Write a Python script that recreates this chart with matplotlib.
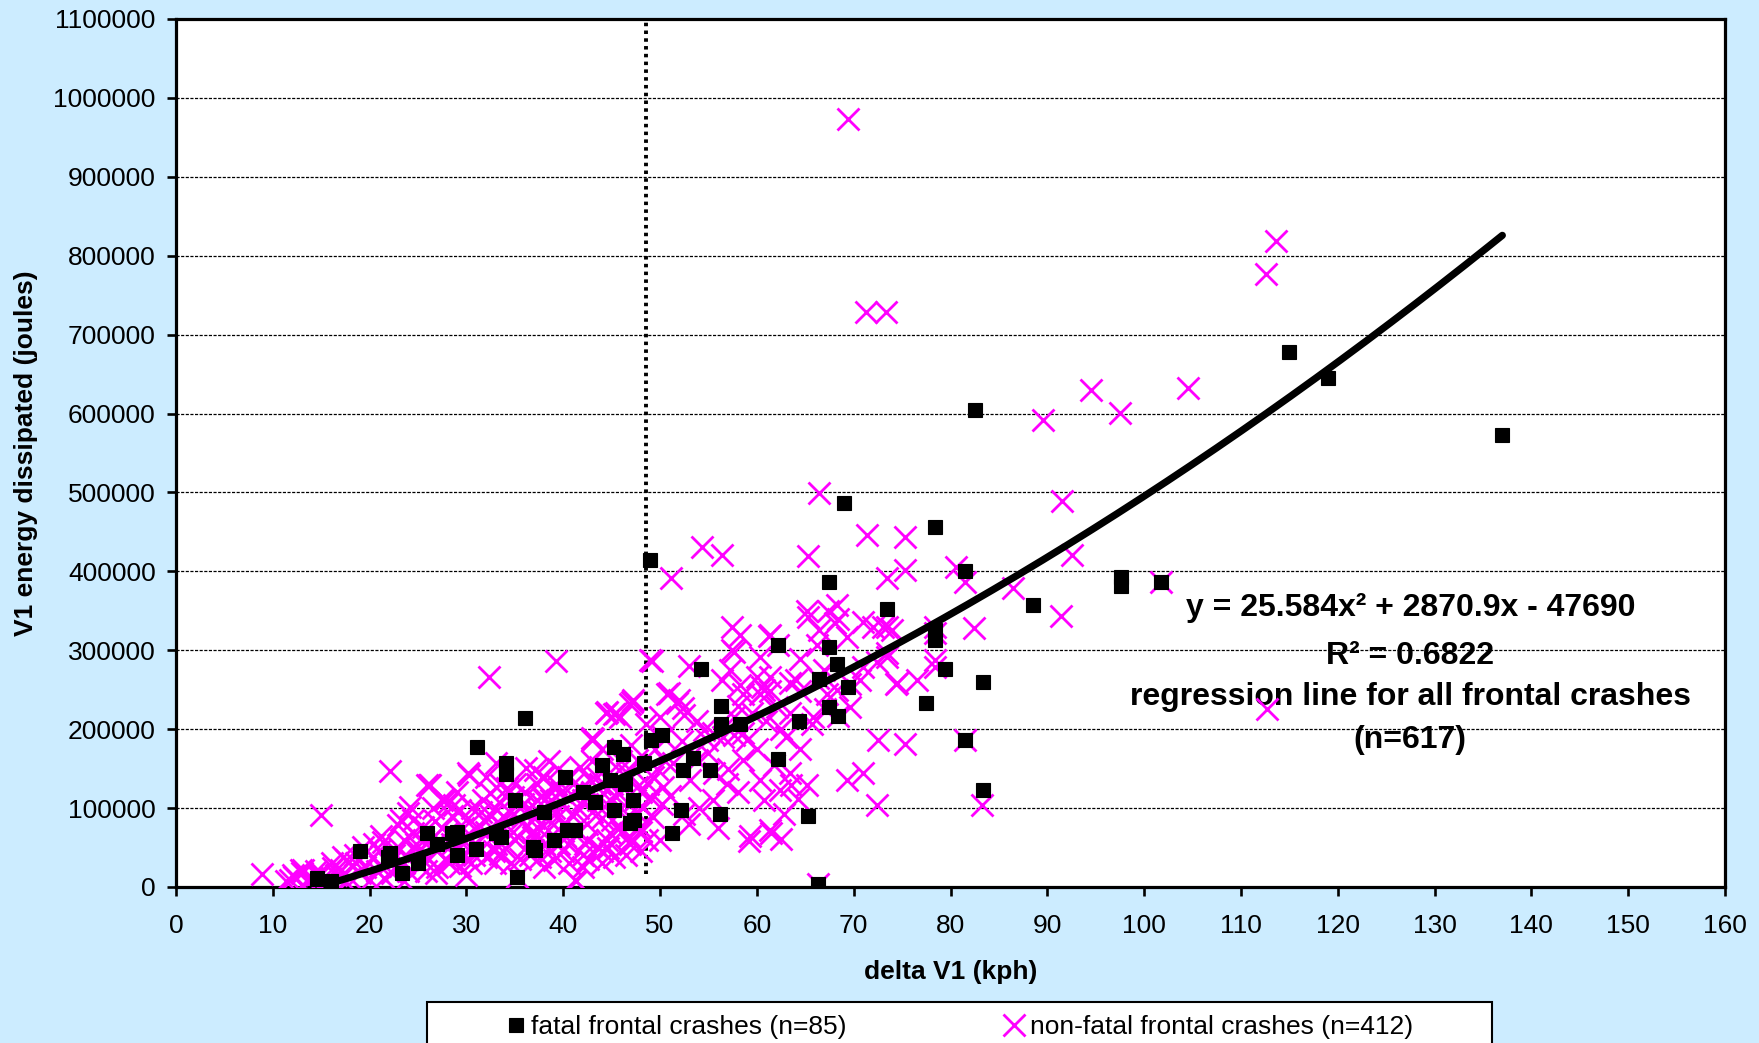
import matplotlib
matplotlib.use("Agg")
import matplotlib.pyplot as plt
import numpy as np
from matplotlib.patches import Rectangle
from matplotlib.ticker import FuncFormatter

plt.rcParams['font.family'] = ['Liberation Sans', 'DejaVu Sans']

# ---------------- data ----------------
x_ticks = list(range(0, 161, 10))
y_ticks = list(range(0, 1100001, 100000))

# fatal frontal crashes: delta V1 (kph), energy (kJ)
fatal_dv = [137, 115, 119, 82.5, 69, 78.4, 49, 81.5, 97.6, 97.6,
            101.7, 88.5, 73.4, 67.4, 62.2, 67.4, 68.3, 78.4, 78.4, 79.4,
            83.4, 54.2, 66.4, 69.4, 77.5, 67.4, 68.4, 64.4, 56.3, 56.3,
            58.3, 81.5, 83.4, 62.2, 65.3, 66.3, 56.2, 51.2, 52.2, 52.4,
            53.4, 55.2, 50.2, 49.1, 48.3, 45.2, 46.2, 40.2, 44.8, 46.4,
            43.3, 47.2, 41.2, 45.2, 46.9, 37.1, 36.1, 31.1, 34.1, 34.1,
            35.2, 19.0, 25.9, 23.3, 29.0, 22.1, 29.0, 33.1, 36.9, 35.0,
            21.9, 28.5, 33.6, 40.4, 47.3, 16.0, 14.6, 38.0, 42.0, 27.0,
            31.0, 44.0, 39.0, 25.0]
fatal_energy_kJ = [573, 678, 645, 604, 487, 456, 415, 400, 393, 381,
                   387, 357, 352, 386, 307, 304, 283, 326, 313, 276,
                   260, 276, 264, 254, 233, 228, 217, 211, 230, 207,
                   206, 186, 123, 162, 90, 4, 93, 68, 98, 148,
                   163, 148, 193, 186, 157, 178, 169, 140, 136, 131,
                   108, 110, 72, 98, 81, 47, 214, 178, 157, 143,
                   13, 45, 68, 18, 70, 43, 40, 68, 51, 110,
                   38, 68, 63, 72, 85, 8, 12, 95, 120, 55,
                   48, 155, 60, 30]

# non-fatal frontal crashes: delta V1 (kph), energy (kJ)
nonfatal_dv = [
    69.4, 113.6, 112.6, 71.3, 73.3, 94.5, 104.5, 89.6, 97.5, 91.5,
    91.4, 92.5, 86.5, 82.4, 78.4, 80.6, 81.5, 75.3, 75.3, 73.4,
    73.4, 74.0, 73.4, 78.4, 112.7, 83.3, 66.4, 65.3, 56.4, 54.3,
    51.1, 49.2, 71.4, 72.5, 75.3, 71.0, 69.3, 72.4, 59.2, 61.5,
    64.2, 63.5, 8.9, 15.0, 22.1, 32.3, 39.3, 101.7, 81.5, 66.3,
    35.2, 62.2, 68.4, 57.4, 58.3, 57.4, 61.4, 60.3, 65.3, 68.3,
    68.4, 66.4, 69.3, 71.0, 72.0, 73.0, 72.4, 73.4, 74.5, 78.4,
    78.4, 56.4, 58.3, 60.5, 60.3, 61.4, 63.4, 64.0, 64.5, 63.4,
    66.9, 68.3, 70.7, 67.2, 69.6, 65.7, 58.6, 56.5, 54.5, 60.9,
    60.0, 57.2, 66.3, 65.2, 67.3, 68.1, 61.3, 57.6, 61.4, 62.1,
    58.6, 60.7, 55.5, 57.6, 53.8, 66.2, 67.0, 69.6, 71.0, 64.5,
    65.8, 62.5, 76.5, 74.4, 53.8, 53.1, 56.9, 58.6, 60.3, 60.7,
    62.4, 59.3, 61.4, 52.5, 50.3, 49.3, 49.0, 49.3, 47.9, 54.8,
    59.0, 57.6, 50.3, 50.7, 51.7, 52.4, 48.5, 47.2, 45.5, 44.5,
    43.1, 51.3, 55.0, 57.0, 58.0, 55.5, 54.0, 56.0, 53.0, 51.0,
    50.5, 55.6, 52.3, 58.0, 59.5, 63.0, 64.5, 61.8, 60.0, 62.8,
    50.0, 62.5, 65.2, 63.4, 39.0, 43.5, 42.2, 40.2, 38.4, 37.3,
    37.3, 38.7, 41.7, 42.8, 40.8, 44.1, 45.5, 46.6, 47.6, 45.9,
    44.8, 46.9, 39.6, 36.9, 47.6, 45.2, 41.2, 43.0, 44.0, 41.5,
    39.5, 42.5, 46.0, 47.5, 48.0, 45.0, 43.5, 41.0, 39.0, 38.0,
    40.0, 42.0, 44.5, 46.5, 47.0, 48.0, 44.0, 42.0, 40.0, 38.0,
    37.0, 36.5, 39.5, 43.0, 46.0, 44.0, 47.0, 45.8, 43.0, 45.2,
    46.9, 26.1, 28.1, 30.2, 33.1, 36.2, 24.0, 22.9, 21.4, 19.3,
    17.6, 16.2, 15.0, 13.0, 12.1, 13.5, 11.4, 20.4, 18.6, 21.1,
    22.3, 20.0, 24.5, 25.5, 26.4, 26.8, 23.8, 25.2, 26.9, 28.0,
    29.3, 29.0, 29.9, 31.1, 31.7, 32.4, 31.4, 32.0, 33.1, 33.5,
    34.2, 34.8, 35.5, 36.2, 36.9, 37.6, 34.8, 37.3, 38.0, 30.0,
    29.3, 28.0, 14.0, 14.5, 15.5, 16.5, 17.0, 18.0, 18.5, 19.5,
    20.5, 21.0, 22.0, 23.0, 23.5, 24.0, 25.0, 26.0, 27.0, 27.5,
    28.5, 29.5, 30.0, 30.5, 31.0, 32.0, 32.5, 33.0, 33.5, 34.0,
    34.5, 35.0, 35.5, 36.0, 36.5, 37.0, 37.5, 38.5, 39.0, 40.0,
    40.5, 41.0, 41.5, 42.5, 43.0, 44.5, 45.0, 46.0, 47.0, 48.0,
    26.5, 27.5, 28.5, 25.5, 24.5, 19.0, 17.5, 16.0, 13.0, 21.5,
    23.5, 27.0, 30.0, 33.0, 35.5, 38.0, 42.0, 44.0, 46.5, 31.5,
    29.0, 32.0, 35.0, 38.5, 40.5, 24.2, 28.7, 26.2, 14.6, 12.2,
    13.1, 30.3, 25.9, 27.8, 23.2, 21.2, 17.3, 12.9, 11.8, 16.1,
    33.5, 37.1, 37.8, 43.0, 47.1, 44.4, 45.9, 50.9, 52.0, 50.0,
    52.5, 49.0, 41.3, 53.0, 48.2, 49.5, 48.8, 50.2, 49.7, 48.6,
    22.5, 24.8, 27.2, 29.6, 31.8, 33.8, 35.8, 37.8, 39.8, 41.8,
    43.8, 45.6, 47.4, 25.8, 28.2, 30.8, 32.8, 34.6, 36.6, 38.6,
    40.6, 42.6, 44.6, 46.8, 18.2, 20.8, 23.6, 26.6, 30.6, 34.0,
    39.2, 43.6,
]
nonfatal_energy_kJ = [
    973, 819, 777, 729, 729, 630, 632, 592, 601, 489,
    343, 421, 379, 328, 322, 406, 387, 444, 402, 391,
    330, 326, 292, 288, 226, 104, 499, 419, 421, 431,
    392, 287, 446, 186, 181, 145, 136, 104, 58, 68,
    111, 129, 16, 91, 147, 266, 286, 387, 186, 4,
    13, 307, 217, 330, 319, 300, 319, 292, 342, 357,
    340, 326, 317, 336, 330, 330, 285, 296, 258, 330,
    279, 262, 256, 254, 245, 249, 258, 262, 249, 220,
    275, 250, 262, 245, 228, 207, 195, 190, 199, 211,
    266, 275, 265, 350, 350, 335, 318, 298, 266, 228,
    245, 250, 195, 216, 211, 307, 226, 257, 279, 289,
    215, 200, 262, 257, 161, 136, 131, 161, 136, 110,
    123, 64, 72, 93, 127, 140, 114, 89, 76, 186,
    186, 193, 190, 245, 233, 227, 207, 237, 220, 222,
    188, 157, 170, 150, 120, 110, 100, 75, 80, 115,
    160, 145, 185, 230, 220, 190, 175, 155, 175, 93,
    60, 61, 129, 145, 34, 51, 55, 64, 72, 110,
    76, 110, 152, 135, 118, 119, 114, 144, 127, 76,
    68, 55, 55, 47, 161, 38, 9, 95, 88, 100,
    90, 80, 100, 95, 70, 130, 140, 130, 125, 140,
    105, 110, 105, 88, 60, 45, 45, 40, 45, 55,
    88, 100, 150, 160, 160, 175, 180, 148, 186, 219,
    232, 129, 106, 144, 157, 151, 94, 78, 57, 51,
    34, 24, 18, 18, 15, 7, 8, 38, 30, 26,
    18, 9, 68, 76, 62, 84, 38, 26, 18, 34,
    26, 51, 57, 76, 110, 119, 47, 38, 55, 42,
    125, 114, 100, 76, 63, 38, 70, 131, 110, 85,
    98, 68, 12, 20, 10, 15, 22, 12, 40, 25,
    55, 45, 30, 50, 60, 20, 45, 35, 45, 75,
    55, 40, 65, 30, 55, 70, 90, 100, 80, 50,
    95, 60, 85, 120, 55, 70, 95, 85, 100, 80,
    55, 90, 70, 60, 120, 60, 85, 70, 140, 120,
    100, 110, 90, 58, 85, 18, 8, 4, 3, 12,
    8, 25, 15, 30, 35, 25, 25, 30, 40, 95,
    120, 140, 130, 160, 140, 101, 104, 129, 15, 13,
    21, 142, 129, 110, 85, 64, 38, 22, 9, 30,
    131, 148, 140, 189, 235, 220, 216, 246, 237, 216,
    218, 288, 7, 280, 100, 175, 130, 105, 150, 60,
    40, 55, 60, 75, 85, 90, 105, 115, 120, 125,
    130, 120, 110, 20, 30, 40, 45, 30, 40, 45,
    30, 35, 50, 65, 28, 20, 30, 50, 100, 115,
    130, 110,
]

# regression trendline coefficients (from the chart label)
trend_coef = [25.584, 2870.9, -47690]
trend_label = ["y = 25.584x\u00b2 + 2870.9x - 47690",
               "R\u00b2 = 0.6822",
               "regression line for all frontal crashes",
               "(n=617)"]
threshold_dv = 48.5
series_labels = ["fatal frontal crashes (n=85)", "non-fatal frontal crashes (n=412)"]

# ---------------- figure ----------------
BG = '#CCECFF'
W, H = 1759, 1043
fig = plt.figure(figsize=(W / 100, H / 100), dpi=100, facecolor=BG)
ax = fig.add_axes([176 / W, 1 - 887 / H, (1725 - 176) / W, (887 - 19) / H])
ax.set_facecolor('white')
ax.set_xlim(0, 160)
ax.set_ylim(0, 1100000)
ax.set_xticks(x_ticks)
ax.set_yticks(y_ticks)
ax.yaxis.set_major_formatter(FuncFormatter(lambda v, p: f"{int(round(v))}"))
ax.xaxis.set_major_formatter(FuncFormatter(lambda v, p: f"{int(round(v))}"))

ax.set_axisbelow(True)
ax.yaxis.grid(True, color='black', linestyle=(0, (2.5, 1.2)), linewidth=0.9)
ax.xaxis.grid(False)

for s in ax.spines.values():
    s.set_linewidth(2.3)
    s.set_color('black')

ax.tick_params(axis='both', direction='out', length=6.5, width=1.9,
               labelsize=19, colors='black')
ax.tick_params(axis='x', pad=13)
ax.tick_params(axis='y', pad=8)

nf_x = np.array(nonfatal_dv)
nf_y = np.array(nonfatal_energy_kJ) * 1000.0
f_x = np.array(fatal_dv)
f_y = np.array(fatal_energy_kJ) * 1000.0

h_nf, = ax.plot(nf_x, nf_y, linestyle='none', marker='x', markersize=16,
                markeredgewidth=2.0, color='#FF00FF', zorder=3)
h_f, = ax.plot(f_x, f_y, linestyle='none', marker='s', markersize=10,
               markerfacecolor='black', markeredgecolor='black',
               markeredgewidth=0.8, zorder=4)

# vertical threshold line
ax.plot([threshold_dv, threshold_dv], [17000, 1100000], color='black',
        linestyle=(0, (0.9, 1.1)), linewidth=2.8, zorder=2.6)

# trendline
all_x = np.concatenate([nf_x, f_x])
tx = np.linspace(all_x.min(), all_x.max(), 400)
ty = np.polyval(trend_coef, tx)
ax.plot(tx, ty, color='black', linewidth=5.2, solid_capstyle='round', zorder=5)

# trendline label
label_x = 127.5
label_y = [353500, 292700, 240700, 186200]
for txt, yy in zip(trend_label, label_y):
    ax.text(label_x, yy, txt, ha='center', va='center', fontsize=23,
            fontweight='bold', color='black', zorder=2.5)

# axis labels
ax.set_xlabel("delta V1 (kph)", fontsize=19, fontweight='bold', va='center')
ax.xaxis.set_label_coords(0.5, -(972 - 887) / 868)
ax.set_ylabel("V1 energy dissipated (joules)", fontsize=19, fontweight='bold', va='center')
ax.yaxis.set_label_coords(-(176 - 26) / 1549, 0.5)

# legend frame (runs off the bottom of the figure)
fig.patches.append(Rectangle((427 / W, -0.05), (1492 - 427) / W, 0.05 + (1 - 1002 / H),
                             transform=fig.transFigure, facecolor='white',
                             edgecolor='black', linewidth=1.5, zorder=1))
leg = fig.legend([h_f, h_nf], series_labels, loc='center left',
                 bbox_to_anchor=(505 / W, 1 - 1027 / H), ncol=2, frameon=False,
                 fontsize=19, handlelength=0.8, handletextpad=0.2,
                 columnspacing=5.95, borderpad=0, borderaxespad=0, numpoints=1)
leg.set_zorder(2)

fig.savefig("out.png", dpi=100, facecolor=BG)
